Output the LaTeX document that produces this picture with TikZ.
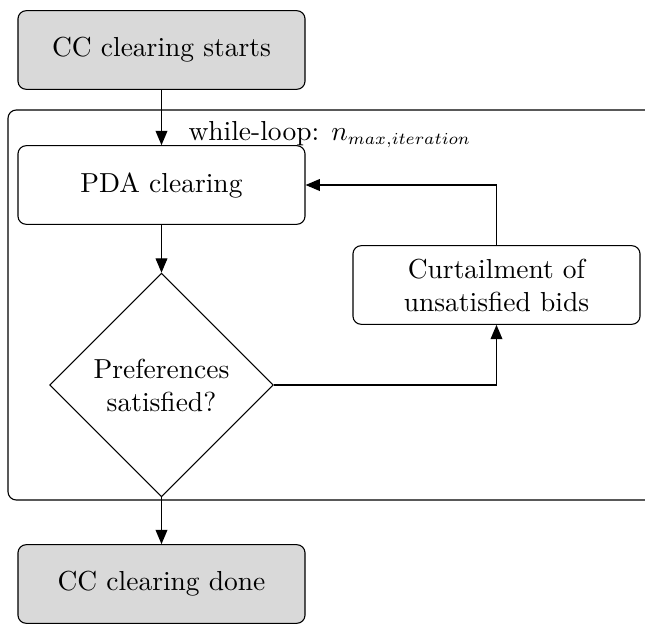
\documentclass[tikz,border=0pt]{standalone}
\usetikzlibrary{shapes.geometric,arrows.meta}
\begin{document}
\begin{tikzpicture}[x=0.36364pt,y=-0.36364pt,
  line width=0.4pt,
  box/.style={draw,rectangle,rounded corners=3pt,minimum width=104.4pt,minimum height=28.6pt,inner sep=0pt,align=center},
  termbox/.style={box,fill=black!15},
  decision/.style={draw,diamond,aspect=1,minimum size=81.3pt,inner sep=0pt,align=center},
  flow/.style={-{Triangle[length=5.2pt,width=4.3pt]}}]
\useasboundingbox (0,0) rectangle (645,624);
\clip (0,0) rectangle (645,624);
% while-loop frame
\draw[rounded corners=3pt] (8,110) rectangle (654,500);
\node[anchor=base west,inner sep=0pt] (looplabel) at (188,140)
  {while-loop: $n_{\scalebox{0.87}{$\scriptstyle max,iteration$}}$};
% flowchart nodes
\node[termbox] (start) at (161.5,50) {CC clearing starts};
\node[box] (pda) at (161.5,185) {PDA clearing};
\node[decision] (dec) at (161.5,385) {Preferences\\satisfied?};
\node[box] (curt) at (496.5,285) {Curtailment of\\unsatisfied bids};
\node[termbox] (done) at (161.5,584) {CC clearing done};
% connectors
\draw[flow] (start) -- (pda);
\draw[flow] (pda) -- (dec);
\draw[flow] (dec.east) -| (curt.south);
\draw[flow] (curt.north) |- (pda.east);
\draw[flow] (dec.south) -- (done.north);
\end{tikzpicture}
\end{document}
